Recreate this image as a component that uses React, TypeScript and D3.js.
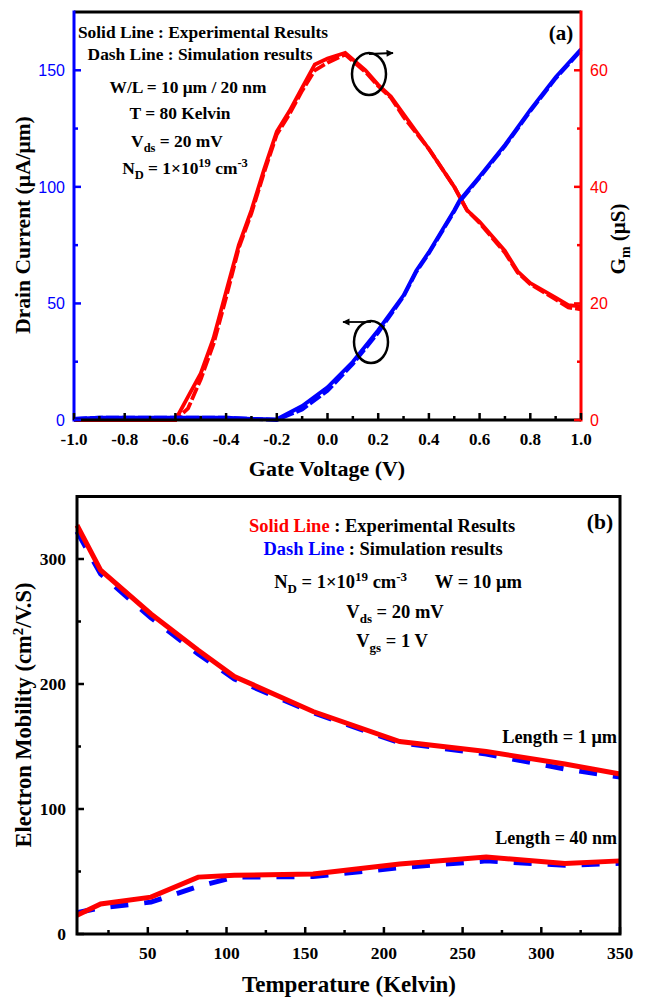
import React from "react";
import * as d3 from "d3";

// ---------- Panel (a) data ----------
const gmVoltage = [-1.0, -0.6, -0.55, -0.5, -0.45, -0.4, -0.35, -0.3, -0.25, -0.2, -0.15, -0.1, -0.05, 0.0, 0.07, 0.15, 0.2, 0.25, 0.3, 0.4, 0.5, 0.55, 0.6, 0.7, 0.75, 0.8, 0.9, 0.95, 1.0];
const gmExperimental = [0, 0, 4, 8, 14, 22, 30, 36, 43, 49.5, 53, 57, 61, 62, 63, 60, 57.5, 55.5, 52.5, 46.5, 40, 36, 34, 29, 25.5, 23.5, 21, 19.7, 19.5];
const gmSimulation = [0, 0, 2, 7, 13, 21, 29.5, 35.5, 42.5, 49, 52.5, 56.5, 60, 61.3, 62.7, 59.7, 57.3, 55.3, 52, 46.5, 40, 36, 33.8, 28.7, 25.3, 23.3, 20.7, 19.3, 19];

const idVoltage = [-1.0, -0.9, -0.8, -0.7, -0.6, -0.5, -0.4, -0.3, -0.2, -0.1, 0.0, 0.1, 0.2, 0.3, 0.35, 0.4, 0.5, 0.52, 0.6, 0.7, 0.8, 0.9, 1.0];
const idExperimental = [0.5, 1, 1, 1, 1, 1, 1, 0.5, 0.3, 6, 14, 25, 38.5, 53.5, 64, 72, 90, 94, 104.5, 118, 133, 147, 159];
const idSimulation = [0.5, 1, 1, 1, 1, 1, 1, 0.5, 0, 4.5, 12.5, 24, 37.5, 53, 63.5, 71.5, 89.5, 93.5, 104, 117.5, 132.5, 146.5, 158.5];

const gateMajorTicks = [-1.0, -0.8, -0.6, -0.4, -0.2, 0.0, 0.2, 0.4, 0.6, 0.8, 1.0];
const gateMinorTicks = [-0.9, -0.7, -0.5, -0.3, -0.1, 0.1, 0.3, 0.5, 0.7, 0.9];
const currentMajorTicks = [0, 50, 100, 150];
const currentMinorTicks = [25, 75, 125];
const gmMajorTicks = [0, 20, 40, 60];
const gmMinorTicks = [10, 30, 50];

// ---------- Panel (b) data ----------
const temperature = [5, 20, 52, 82, 105, 155, 210, 265, 315, 350];
const mobility1umExp = [327, 291, 256, 227, 206, 178, 154, 146, 136, 128];
const mobility1umSim = [322, 288, 253, 224, 204, 177, 153, 144, 132, 125.5];
const mobility40nmExp = [15, 24, 29.5, 45.5, 47, 48, 56, 61.5, 56.5, 58.5];
const mobility40nmSim = [17, 21, 25.5, 38, 45.5, 46, 53, 58.5, 55, 56.5];

const tempMajorTicks = [50, 100, 150, 200, 250, 300, 350];
const tempMinorTicks = [25, 75, 125, 175, 225, 275, 325];
const mobMajorTicks = [0, 100, 200, 300];
const mobMinorTicks = [50, 150, 250];

const SERIF = "'Liberation Serif', 'Times New Roman', serif";
const SANS = "'Liberation Sans', Arial, sans-serif";
const RED = "#ff0000";
const BLUE = "#0000ff";

const fmtV = (v: number) => (Math.abs(v) < 1e-9 ? "0.0" : v.toFixed(1));

export default function App() {
  const xA = d3.scaleLinear().domain([-1, 1]).range([74, 581]);
  const yI = d3.scaleLinear().domain([0, 175]).range([420, 12]);
  const yG = d3.scaleLinear().domain([0, 70]).range([420, 12]);
  const xB = d3.scaleLinear().domain([5, 350]).range([77, 620]);
  const yB = d3.scaleLinear().domain([0, 350]).range([934, 496.5]);

  const mkLine = (xs: number[], ys: number[], sx: any, sy: any) =>
    d3.line<number>().x((_, i) => sx(xs[i])).y((d) => sy(d))(ys) || "";

  const gmExpPath = mkLine(gmVoltage, gmExperimental, xA, yG);
  const gmSimPath = mkLine(gmVoltage, gmSimulation, xA, yG);
  const idExpPath = mkLine(idVoltage, idExperimental, xA, yI);
  const idSimPath = mkLine(idVoltage, idSimulation, xA, yI);

  const m1Exp = mkLine(temperature, mobility1umExp, xB, yB);
  const m1Sim = mkLine(temperature, mobility1umSim, xB, yB);
  const m40Exp = mkLine(temperature, mobility40nmExp, xB, yB);
  const m40Sim = mkLine(temperature, mobility40nmSim, xB, yB);

  const ax = 3;
  const bold = { fontFamily: SERIF, fontWeight: 700 as const };
  const aFs = 17.4;
  const aSub = 12.5;
  const bFs = 18.5;
  const bSub = 13;

  return (
    <svg
      width={648}
      height={1000}
      style={{ position: "absolute", left: 0, top: 0, background: "#fff" }}
    >
      <rect x={0} y={0} width={648} height={1000} fill="#fff" />
      <defs>
        <marker id="arrowR" viewBox="0 0 10 10" refX="9" refY="5" markerWidth="5" markerHeight="4" orient="auto" markerUnits="strokeWidth">
          <path d="M0,0 L10,5 L0,10 z" fill="#000" />
        </marker>
      </defs>

      {/* ================= Panel (a) ================= */}
      <path d={gmSimPath} fill="none" stroke={RED} strokeWidth={3.8} strokeDasharray="13,3" />
      <path d={gmExpPath} fill="none" stroke={RED} strokeWidth={3.8} />
      <path d={idSimPath} fill="none" stroke={BLUE} strokeWidth={3.8} strokeDasharray="13,3" />
      <path d={idExpPath} fill="none" stroke={BLUE} strokeWidth={3.8} />

      {/* frame */}
      <line x1={xA(-1)} x2={xA(1)} y1={12} y2={12} stroke="#000" strokeWidth={ax} />
      <line x1={xA(-1)} x2={xA(1)} y1={420} y2={420} stroke="#000" strokeWidth={ax} />
      <line x1={xA(-1)} x2={xA(-1)} y1={10.5} y2={421.5} stroke={BLUE} strokeWidth={ax} />
      <line x1={xA(1)} x2={xA(1)} y1={10.5} y2={421.5} stroke={RED} strokeWidth={ax} />

      {/* x ticks */}
      {gateMajorTicks.map((v) => (
        <g key={"gx" + v}>
          <line x1={xA(v)} x2={xA(v)} y1={420} y2={413} stroke="#000" strokeWidth={2.5} />
          <text x={xA(v)} y={445} textAnchor="middle" fontSize={17} {...bold}>
            {fmtV(v)}
          </text>
        </g>
      ))}
      {gateMinorTicks.map((v) => (
        <line key={"gxm" + v} x1={xA(v)} x2={xA(v)} y1={420} y2={416} stroke="#000" strokeWidth={2.5} />
      ))}
      {/* left ticks */}
      {currentMajorTicks.map((v) => (
        <g key={"iy" + v}>
          <line x1={74} x2={81} y1={yI(v)} y2={yI(v)} stroke={BLUE} strokeWidth={2.5} />
          <text x={65} y={yI(v) + 6} textAnchor="end" fontSize={16} fontFamily={SANS} fill={BLUE}>
            {v}
          </text>
        </g>
      ))}
      {currentMinorTicks.map((v) => (
        <line key={"iym" + v} x1={74} x2={78} y1={yI(v)} y2={yI(v)} stroke={BLUE} strokeWidth={2.5} />
      ))}
      {/* right ticks */}
      {gmMajorTicks.map((v) => (
        <g key={"gy" + v}>
          <line x1={581} x2={574} y1={yG(v)} y2={yG(v)} stroke={RED} strokeWidth={2.5} />
          <text x={590} y={yG(v) + 6} textAnchor="start" fontSize={16} fontFamily={SANS} fill={RED}>
            {v}
          </text>
        </g>
      ))}
      {gmMinorTicks.map((v) => (
        <line key={"gym" + v} x1={581} x2={577} y1={yG(v)} y2={yG(v)} stroke={RED} strokeWidth={2.5} />
      ))}

      {/* axis titles */}
      <text x={327} y={476} textAnchor="middle" fontSize={22} {...bold}>
        Gate Voltage (V)
      </text>
      <text transform="translate(30,225) rotate(-90)" textAnchor="middle" fontSize={21.5} {...bold}>
        Drain Current (μA/μm)
      </text>
      <text transform="translate(625,239) rotate(-90)" textAnchor="middle" fontSize={21} {...bold}>
        <tspan>G</tspan>
        <tspan dy={5} fontSize={14}>m</tspan>
        <tspan dy={-5}>{"  (μS)"}</tspan>
      </text>

      {/* annotations (a) */}
      <g {...bold} fontSize={aFs} textAnchor="middle">
        <text x={203} y={38}>Solid Line : Experimental Results</text>
        <text x={200} y={60}>Dash Line : Simulation results</text>
        <text x={188} y={93}>W/L = 10 μm / 20 nm</text>
        <text x={180} y={119}>T = 80 Kelvin</text>
        <text x={177} y={147}>
          <tspan>V</tspan>
          <tspan dy={4.5} fontSize={aSub}>ds</tspan>
          <tspan dy={-4.5}> = 20 mV</tspan>
        </text>
        <text x={185} y={174}>
          <tspan>N</tspan>
          <tspan dy={4.5} fontSize={aSub}>D</tspan>
          <tspan dy={-4.5}> = 1×10</tspan>
          <tspan dy={-7} fontSize={aSub}>19</tspan>
          <tspan dy={7}> cm</tspan>
          <tspan dy={-7} fontSize={aSub}>-3</tspan>
        </text>
      </g>
      <text x={561} y={40} textAnchor="middle" fontSize={21} {...bold}>(a)</text>

      {/* ellipses & arrows (a) */}
      <ellipse cx={369} cy={74} rx={17} ry={21} fill="none" stroke="#000" strokeWidth={2.5} />
      <line x1={369} y1={54} x2={393} y2={53} stroke="#000" strokeWidth={1.8} markerEnd="url(#arrowR)" />
      <ellipse cx={371} cy={342} rx={17} ry={21} fill="none" stroke="#000" strokeWidth={2.5} />
      <line x1={371} y1={322} x2={343} y2={322} stroke="#000" strokeWidth={1.8} markerEnd="url(#arrowR)" />

      {/* ================= Panel (b) ================= */}
      <path d={m1Sim} fill="none" stroke={BLUE} strokeWidth={5} strokeDasharray="18,16" />
      <path d={m40Sim} fill="none" stroke={BLUE} strokeWidth={5} strokeDasharray="18,16" />
      <path d={m1Exp} fill="none" stroke={RED} strokeWidth={5} />
      <path d={m40Exp} fill="none" stroke={RED} strokeWidth={5} />

      <rect x={77} y={yB(350)} width={620 - 77} height={934 - yB(350)} fill="none" stroke="#000" strokeWidth={ax} />

      {tempMajorTicks.map((v) => (
        <g key={"tx" + v}>
          <line x1={xB(v)} x2={xB(v)} y1={934} y2={927} stroke="#000" strokeWidth={2.5} />
          <text x={xB(v)} y={959} textAnchor="middle" fontSize={17.5} {...bold}>
            {v}
          </text>
        </g>
      ))}
      {tempMinorTicks.map((v) => (
        <line key={"txm" + v} x1={xB(v)} x2={xB(v)} y1={934} y2={930} stroke="#000" strokeWidth={2.5} />
      ))}
      {mobMajorTicks.map((v) => (
        <g key={"my" + v}>
          <line x1={77} x2={84} y1={yB(v)} y2={yB(v)} stroke="#000" strokeWidth={2.5} />
          <text x={66} y={yB(v) + 6} textAnchor="end" fontSize={17.5} {...bold}>
            {v}
          </text>
        </g>
      ))}
      {mobMinorTicks.map((v) => (
        <line key={"mym" + v} x1={77} x2={81} y1={yB(v)} y2={yB(v)} stroke="#000" strokeWidth={2.5} />
      ))}

      <text x={349} y={992} textAnchor="middle" fontSize={23} {...bold}>
        Temperature (Kelvin)
      </text>
      <text transform="translate(31,715) rotate(-90)" textAnchor="middle" fontSize={22.5} {...bold}>
        <tspan>Electron Mobility (cm</tspan>
        <tspan dy={-8} fontSize={15}>2</tspan>
        <tspan dy={8}>/V.S)</tspan>
      </text>

      <g {...bold} fontSize={bFs} textAnchor="middle">
        <text x={382} y={532}>
          <tspan fill={RED}>Solid Line</tspan>
          <tspan> : Experimental Results</tspan>
        </text>
        <text x={383} y={555}>
          <tspan fill={BLUE}>Dash Line</tspan>
          <tspan> : Simulation results</tspan>
        </text>
        <text x={398} y={588}>
          <tspan>N</tspan>
          <tspan dy={5} fontSize={bSub}>D</tspan>
          <tspan dy={-5}> = 1×10</tspan>
          <tspan dy={-7} fontSize={bSub}>19</tspan>
          <tspan dy={7}> cm</tspan>
          <tspan dy={-7} fontSize={bSub}>-3</tspan>
          <tspan dy={7}>{"\u00A0\u00A0\u00A0\u00A0\u00A0\u00A0W = 10 μm"}</tspan>
        </text>
        <text x={395} y={618}>
          <tspan>V</tspan>
          <tspan dy={5} fontSize={bSub}>ds</tspan>
          <tspan dy={-5}> = 20 mV</tspan>
        </text>
        <text x={392} y={647}>
          <tspan>V</tspan>
          <tspan dy={5} fontSize={bSub}>gs</tspan>
          <tspan dy={-5}> = 1 V</tspan>
        </text>
      </g>
      <text x={600} y={529} textAnchor="middle" fontSize={21.5} {...bold}>(b)</text>
      <text x={617} y={743} textAnchor="end" fontSize={18.3} {...bold}>Length = 1 μm</text>
      <text x={617} y={844} textAnchor="end" fontSize={18} {...bold}>Length = 40 nm</text>
    </svg>
  );
}
